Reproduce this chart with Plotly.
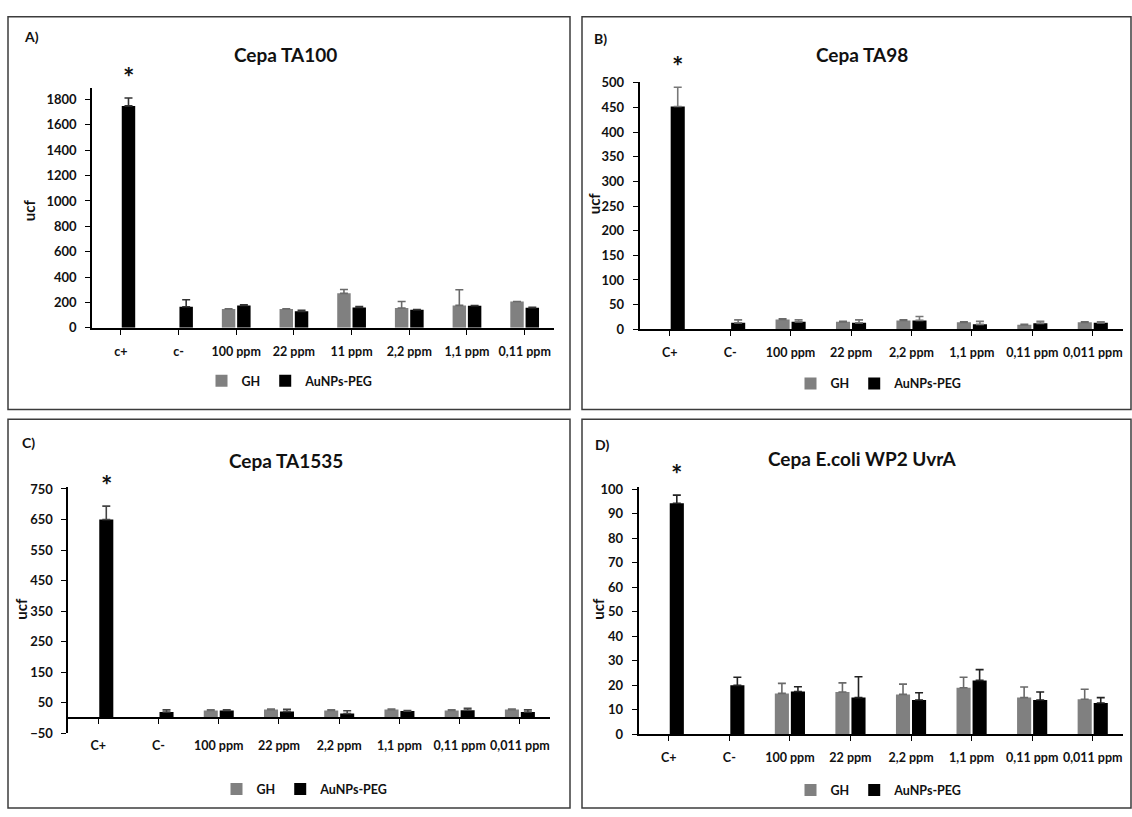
import plotly.graph_objects as go

W, H = 1132, 817

# ---- data -------------------------------------------------------------
cats_ta100 = ["c+", "c-", "100 ppm", "22 ppm", "11 ppm", "2,2 ppm", "1,1 ppm", "0,11 ppm"]
cats_other = ["C+", "C-", "100 ppm", "22 ppm", "2,2 ppm", "1,1 ppm", "0,11 ppm", "0,011 ppm"]

# Cepa TA100
gh_ta100 = [None, None, 147, 147, 271, 155, 176, 207]
gh_ta100_err = [0, 0, 3, 2, 30, 52, 124, 0]
peg_ta100 = [1750, 165, 176, 129, 160, 142, 173, 158]
peg_ta100_err = [62, 55, 5, 8, 7, 2, 2, 2]

# Cepa TA98
gh_ta98 = [None, None, 20, 15, 18, 14, 9, 14]
gh_ta98_err = [0, 0, 1, 1, 1, 1, 1, 1]
peg_ta98 = [452, 13, 15, 13, 18, 10, 12, 13]
peg_ta98_err = [39, 6, 4, 6, 8, 6, 4, 2]

# Cepa TA1535
gh_ta1535 = [None, None, 25, 28, 25, 28, 25, 28]
gh_ta1535_err = [0, 0, 2, 2, 2, 2, 2, 2]
peg_ta1535 = [650, 20, 25, 22, 15, 23, 26, 20]
peg_ta1535_err = [44, 7, 2, 7, 9, 2, 6, 7]

# Cepa E.coli WP2 UvrA
gh_wp2 = [None, None, 16.7, 17.3, 16.3, 19, 15, 14.3]
gh_wp2_err = [0, 0, 4.1, 3.7, 4.2, 4.3, 4.3, 4.1]
peg_wp2 = [94.2, 20, 17.5, 15, 14, 22, 14, 12.8]
peg_wp2_err = [3.3, 3.3, 1.9, 8.5, 3, 4.4, 3.3, 2.2]

# ---- panel layout (pixel boxes of each plot area) ---------------------
FONT = "Lato"
panels = [
    dict(letter="A)", title="Cepa TA100", cats=cats_ta100,
         gh=gh_ta100, gh_err=gh_ta100_err, peg=peg_ta100, peg_err=peg_ta100_err,
         x0=92, x1=553.5, ytop=82.7, ybot=326.7, yrange=[0, 1890], dtick=200, tick0=0,
         frame=(8, 10, 570, 410), letter_xy=(22, 30), title_xy=(285, 48),
         ucf_xy=(29, 207), legend_xy=(290, 381), err_col="#333333"),
    dict(letter="B)", title="Cepa TA98", cats=cats_other,
         gh=gh_ta98, gh_err=gh_ta98_err, peg=peg_ta98, peg_err=peg_ta98_err,
         x0=639.5, x1=1123, ytop=76, ybot=328.3, yrange=[0, 502.5], dtick=50, tick0=0,
         frame=(582, 10, 1131, 410), letter_xy=(592, 32), title_xy=(862, 48),
         ucf_xy=(594, 200), legend_xy=(879, 384), err_col="#777777"),
    dict(letter="C)", title="Cepa TA1535", cats=cats_other,
         gh=gh_ta1535, gh_err=gh_ta1535_err, peg=peg_ta1535, peg_err=peg_ta1535_err,
         x0=68.2, x1=550, ytop=489.3, ybot=740, yrange=[-50, 755.4], dtick=100, tick0=-50,
         frame=(8, 420, 570, 816), letter_xy=(20, 444), title_xy=(286, 462),
         ucf_xy=(21, 613), legend_xy=(305, 797), err_col="#444444"),
    dict(letter="D)", title="Cepa E.coli WP2 UvrA", cats=cats_other,
         gh=gh_wp2, gh_err=gh_wp2_err, peg=peg_wp2, peg_err=peg_wp2_err,
         x0=638.5, x1=1123, ytop=489.3, ybot=741, yrange=[0, 100.7], dtick=10, tick0=0,
         frame=(582, 420, 1131, 816), letter_xy=(593, 446), title_xy=(862, 460),
         ucf_xy=(598, 613), legend_xy=(879, 798), err_col="#222222"),
]

BARGAP = 0.47
BARGROUPGAP = 0.12
GRAY = "#808080"
BLACK = "#000000"
TXT = "#111111"

fig = go.Figure()
layout = dict(
    width=W, height=H, margin=dict(l=0, r=0, t=0, b=0),
    paper_bgcolor="white", plot_bgcolor="white",
    barmode="group", bargap=BARGAP, bargroupgap=BARGROUPGAP,
    font=dict(family=FONT, color=TXT),
)
annotations = []
shapes = []


def px_x(v):
    return v / W


def px_y(v):
    return 1 - v / H


for i, p in enumerate(panels):
    sfx = "" if i == 0 else str(i + 1)
    xa, ya, leg = "x" + sfx, "y" + sfx, "legend" + sfx
    n = len(p["cats"])

    fig.add_bar(
        x=p["cats"], y=p["gh"], name="GH", marker_color=GRAY, marker_line_width=0,
        error_y=dict(type="data", array=p["gh_err"], arrayminus=[0] * n, symmetric=False,
                     color="#6a6a6a", thickness=1.6, width=4),
        xaxis=xa, yaxis=ya, legend=leg,
    )
    fig.add_bar(
        x=p["cats"], y=p["peg"], name="AuNPs-PEG", marker_color=BLACK, marker_line_width=0,
        error_y=dict(type="data", array=p["peg_err"], arrayminus=[0] * n, symmetric=False,
                     color=p["err_col"], thickness=1.6, width=4),
        xaxis=xa, yaxis=ya, legend=leg,
    )

    ydom = [px_y(p["ybot"]), px_y(p["ytop"])]
    xaxis = dict(
        domain=[px_x(p["x0"]), px_x(p["x1"])], range=[-0.5, n - 0.5], type="category",
        showline=True, linecolor="black", linewidth=1.6, ticks="outside", ticklen=5,
        tickcolor="black", tickwidth=1.4, tickangle=0, showgrid=False, zeroline=False,
        tickfont=dict(family=FONT, size=12.5, weight="bold", color=TXT),
        ticklabelstandoff=6, fixedrange=True,
    )
    lo, hi = p["yrange"]
    if lo < 0:
        # category axis drawn through the zero line of the value axis
        xaxis["anchor"] = "free"
        xaxis["position"] = ydom[0] + (0 - lo) / (hi - lo) * (ydom[1] - ydom[0])
        xaxis["ticklabelstandoff"] = 11
    else:
        xaxis["anchor"] = ya
    yaxis = dict(
        domain=ydom, anchor=xa, range=p["yrange"], tick0=p["tick0"], dtick=p["dtick"],
        showline=True, linecolor="black", linewidth=1.6, ticks="outside", ticklen=5,
        tickcolor="black", tickwidth=1.4, showgrid=False, zeroline=False,
        tickfont=dict(family=FONT, size=13, weight="bold", color=TXT),
        ticklabelstandoff=6, fixedrange=True,
    )
    layout["xaxis" + sfx] = xaxis
    layout["yaxis" + sfx] = yaxis

    lx, ly = p["legend_xy"]
    layout[leg] = dict(
        orientation="h", x=px_x(lx), y=px_y(ly), xanchor="center", yanchor="middle",
        bgcolor="rgba(0,0,0,0)", font=dict(family=FONT, size=12.5, weight="bold", color=TXT),
        itemclick=False, itemdoubleclick=False,
    )

    fx0, fy0, fx1, fy1 = p["frame"]
    shapes.append(dict(type="rect", xref="paper", yref="paper",
                       x0=px_x(fx0), x1=px_x(fx1), y0=px_y(fy1), y1=px_y(fy0),
                       line=dict(color="#3c3c3c", width=1.5), fillcolor="rgba(0,0,0,0)"))

    annotations.append(dict(text=p["letter"], xref="paper", yref="paper",
                            x=px_x(p["letter_xy"][0]), y=px_y(p["letter_xy"][1]),
                            xanchor="left", yanchor="middle", showarrow=False,
                            font=dict(family=FONT, size=14, weight="bold", color=TXT)))
    annotations.append(dict(text=p["title"], xref="paper", yref="paper",
                            x=px_x(p["title_xy"][0]), y=px_y(p["title_xy"][1]),
                            xanchor="center", yanchor="middle", showarrow=False,
                            font=dict(family=FONT, size=19, weight="bold", color=TXT)))
    annotations.append(dict(text="ucf", xref="paper", yref="paper",
                            x=px_x(p["ucf_xy"][0]), y=px_y(p["ucf_xy"][1]),
                            xanchor="center", yanchor="middle", textangle=-90, showarrow=False,
                            font=dict(family=FONT, size=15, weight="bold", color=TXT)))

    # significance mark over the positive control (second bar of the group)
    cat_px = (p["x1"] - p["x0"]) / n
    shift = (1 - BARGAP) * cat_px / 4
    annotations.append(dict(text="*", xref=xa, yref=ya, x=p["cats"][0],
                            y=p["peg"][0] + p["peg_err"][0], xshift=shift, yshift=3,
                            xanchor="center", yanchor="bottom", showarrow=False,
                            font=dict(family=FONT, size=27, weight="bold", color=TXT)))

layout["annotations"] = annotations
layout["shapes"] = shapes
fig.update_layout(**layout)

fig.write_html("out.html")
